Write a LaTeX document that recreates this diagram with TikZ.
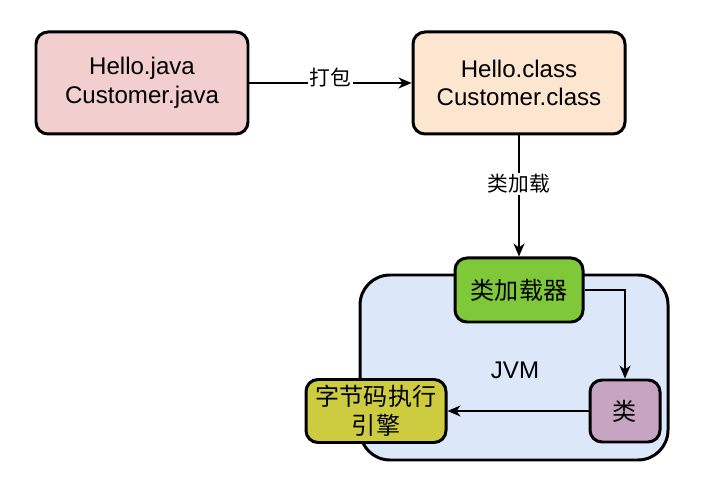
\documentclass[tikz,border=0pt]{standalone}
\usepackage{fontspec}
\setmainfont{Liberation Sans}
\newfontfamily\cjk{Noto Sans CJK SC}
\usetikzlibrary{positioning, arrows.meta, calc}

\definecolor{srcpink}{HTML}{F2CFCE}
\definecolor{clsorange}{HTML}{FCE6CF}
\definecolor{jvmblue}{HTML}{DCE7F9}
\definecolor{loadgreen}{HTML}{7EC83A}
\definecolor{clspurple}{HTML}{C6A4C2}
\definecolor{engyellow}{HTML}{CDCB40}

\begin{document}
\begin{tikzpicture}[
    box/.style={rectangle, rounded corners=0.24cm, draw=black, line width=1.7pt,
                align=center, font=\fontsize{13.7}{16.2}\selectfont},
    arrow/.style={-{Stealth[length=0.26cm, width=0.22cm, inset=0.08cm]}, line width=0.75pt},
    label/.style={font=\fontsize{11.8}{14}\selectfont\cjk, fill=white, inner sep=1pt}
]
    \useasboundingbox[fill=white] (0,0) rectangle (14.36,9.68);

    % JVM container
    \node[box, fill=jvmblue, rounded corners=0.6cm, minimum width=6.16cm,
          minimum height=3.7cm] (jvm) at (10.28, 2.33) {};
    \node[font=\fontsize{13.7}{16}\selectfont] (jvmtext) at (10.3, 2.28) {JVM};

    % Source files
    \node[box, fill=srcpink, minimum width=4.24cm, minimum height=2.04cm] (src) at (2.84, 8.02)
        {Hello.java\\Customer.java};

    % Class files
    \node[box, fill=clsorange, minimum width=4.24cm, minimum height=2.04cm] (cls) at (10.38, 8.02)
        {Hello.class\\Customer.class};

    % Class loader
    \node[box, fill=loadgreen, minimum width=2.56cm, minimum height=1.28cm] (loader) at (10.38, 3.88)
        {\cjk 类加载器};

    % Class
    \node[box, fill=clspurple, minimum width=1.4cm, minimum height=1.24cm] (klass) at (12.5, 1.46)
        {\cjk 类};

    % Execution engine
    \node[box, fill=engyellow, minimum width=2.8cm, minimum height=1.26cm] (engine) at (7.52, 1.46)
        {\cjk 字节码执行\\\cjk 引擎};

    % Arrows
    \draw[arrow] (src) -- (cls) node[midway, label, yshift=0.1cm] {打包};
    \draw[arrow] (cls) -- (loader) node[pos=0.4, label] {类加载};
    \draw[arrow] (loader.east) -| (klass.north);
    \draw[arrow] (klass) -- (engine);

\end{tikzpicture}
\end{document}
